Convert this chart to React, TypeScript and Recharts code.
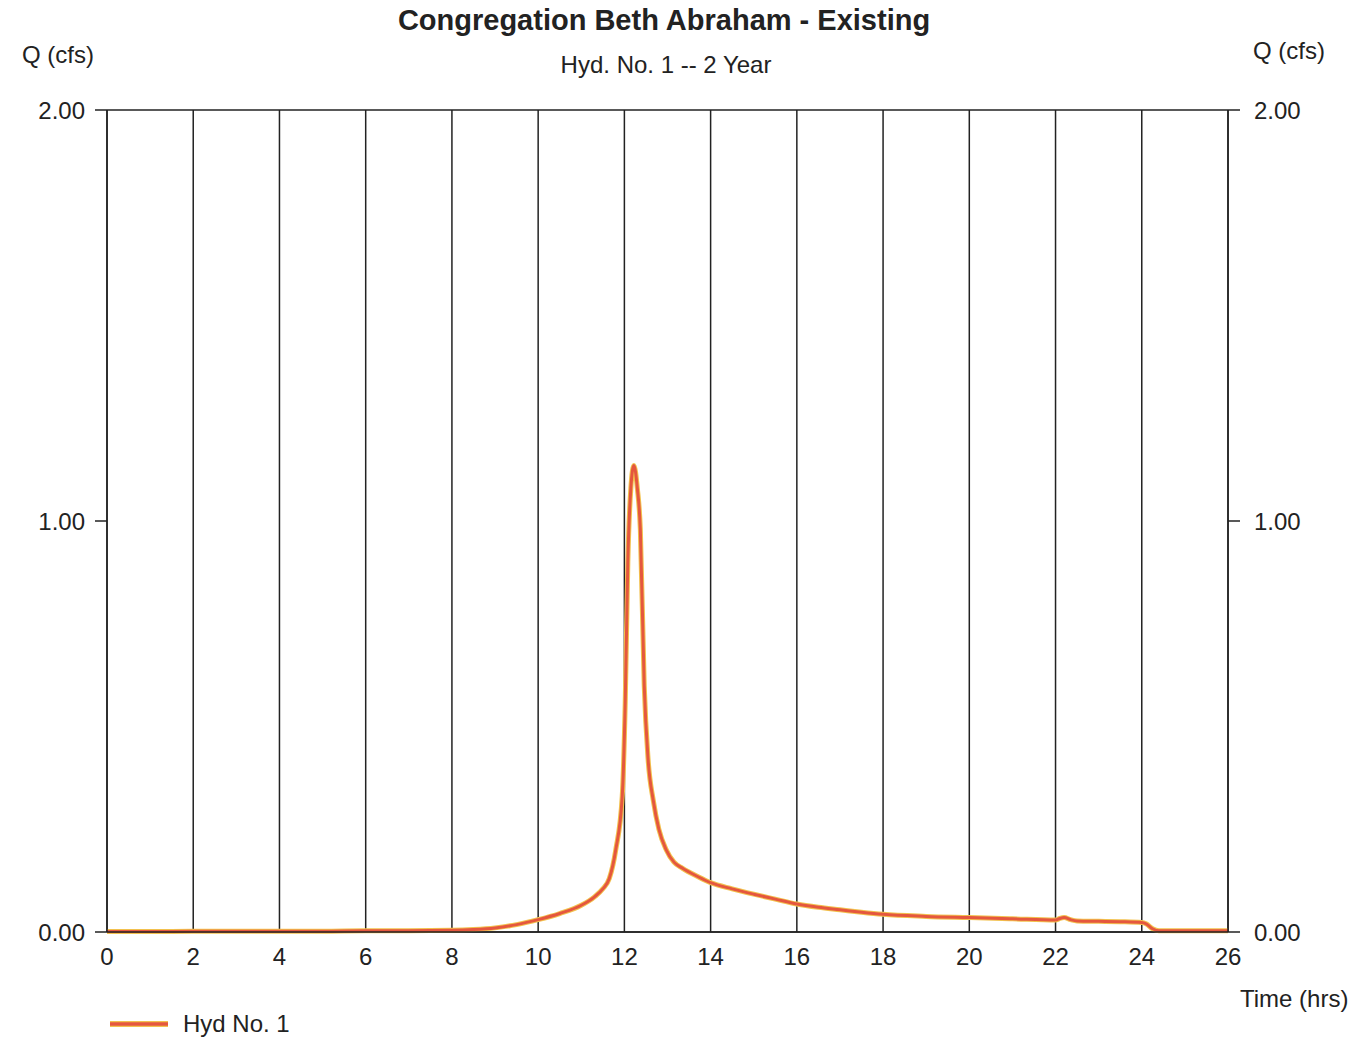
import React from "react";
import { CartesianGrid, Line, LineChart, XAxis, YAxis } from "recharts";

// hydrograph (hrs, cfs)
const times = [
  0, 1, 2, 3, 4, 5, 6, 7, 8, 8.5, 9, 9.5, 10, 10.5, 11, 11.3, 11.5, 11.65, 11.8, 11.95, 12.02, 12.08,
  12.15, 12.22, 12.3, 12.37, 12.46, 12.55, 12.67, 12.8, 12.97, 13.15, 13.35, 13.7, 14, 14.5, 15, 15.5,
  16, 16.5, 17, 17.5, 18, 19, 20, 21, 22, 22.1, 22.2, 22.35, 22.5, 23, 23.5, 24, 24.1, 24.25, 24.4, 25, 26,
];
const flows = [
  0.001, 0.001, 0.002, 0.002, 0.002, 0.002, 0.003, 0.003, 0.004, 0.006, 0.01, 0.018, 0.03, 0.045, 0.065,
  0.085, 0.105, 0.13, 0.2, 0.33, 0.56, 0.9, 1.08, 1.135, 1.08, 0.98, 0.6, 0.42, 0.32, 0.25, 0.2, 0.17,
  0.155, 0.135, 0.12, 0.105, 0.092, 0.08, 0.068, 0.06, 0.054, 0.048, 0.043, 0.038, 0.035, 0.032, 0.029,
  0.033, 0.035, 0.03, 0.027, 0.026, 0.025, 0.023, 0.02, 0.008, 0.003, 0.003, 0.003,
];
const xTicks = [0, 2, 4, 6, 8, 10, 12, 14, 16, 18, 20, 22, 24, 26];
const yTicks = [0, 1, 2];

const data = times.map((t, i) => ({ t, q: flows[i] }));

const font = "'Liberation Sans', Arial, sans-serif";
const ink = "#222";
const tickStyle = { fontSize: 24, fill: ink, fontFamily: font };

export default function App() {
  return (
    <div style={{ position: "absolute", left: 0, top: 0, width: 1355, height: 1042, background: "#fff", fontFamily: font, color: ink }}>
      <div style={{ position: "absolute", left: 0, width: 1328, top: 4, textAlign: "center", fontSize: 29, fontWeight: "bold" }}>
        Congregation Beth Abraham - Existing
      </div>
      <div style={{ position: "absolute", left: 0, width: 1332, top: 51, textAlign: "center", fontSize: 24 }}>
        Hyd. No. 1 -- 2 Year
      </div>
      <div style={{ position: "absolute", left: 22, top: 41, fontSize: 24 }}>Q (cfs)</div>
      <div style={{ position: "absolute", left: 1253, top: 37, fontSize: 24 }}>Q (cfs)</div>
      <div style={{ position: "absolute", left: 1240, top: 985, fontSize: 24 }}>Time (hrs)</div>

      <LineChart width={1355} height={1042} data={data} margin={{ top: 110, right: 27, left: 7, bottom: 60 }}>
        <CartesianGrid stroke={ink} strokeWidth={1.5} />
        <XAxis
          dataKey="t"
          type="number"
          domain={[0, 26]}
          ticks={xTicks}
          tickLine={false}
          axisLine={{ stroke: ink, strokeWidth: 1.5 }}
          tickSize={0}
          tickMargin={16}
          height={50}
          tick={tickStyle}
        />
        <YAxis
          yAxisId="l"
          domain={[0, 2]}
          ticks={yTicks}
          tickFormatter={(v: number) => v.toFixed(2)}
          tickSize={12}
          tickMargin={10}
          tickLine={{ stroke: ink, strokeWidth: 1.5 }}
          axisLine={{ stroke: ink, strokeWidth: 1.5 }}
          width={100}
          tick={tickStyle}
        />
        <YAxis
          yAxisId="r"
          orientation="right"
          domain={[0, 2]}
          ticks={yTicks}
          tickFormatter={(v: number) => v.toFixed(2)}
          tickSize={12}
          tickMargin={14}
          tickLine={{ stroke: ink, strokeWidth: 1.5 }}
          axisLine={{ stroke: ink, strokeWidth: 1.5 }}
          width={100}
          tick={tickStyle}
        />
        <Line yAxisId="r" dataKey="q" type="monotone" stroke="#f2c14e" strokeWidth={5} dot={false} isAnimationActive={false} />
        <Line yAxisId="l" dataKey="q" type="monotone" stroke="#e5573e" strokeWidth={3} dot={false} isAnimationActive={false} />
      </LineChart>

      <svg style={{ position: "absolute", left: 108, top: 1017 }} width={64} height={14}>
        <line x1={2} y1={7} x2={60} y2={7} stroke="#f2c14e" strokeWidth={6} />
        <line x1={2} y1={7} x2={60} y2={7} stroke="#e5573e" strokeWidth={3.5} />
      </svg>
      <div style={{ position: "absolute", left: 183, top: 1010, fontSize: 24 }}>Hyd No. 1</div>
    </div>
  );
}
